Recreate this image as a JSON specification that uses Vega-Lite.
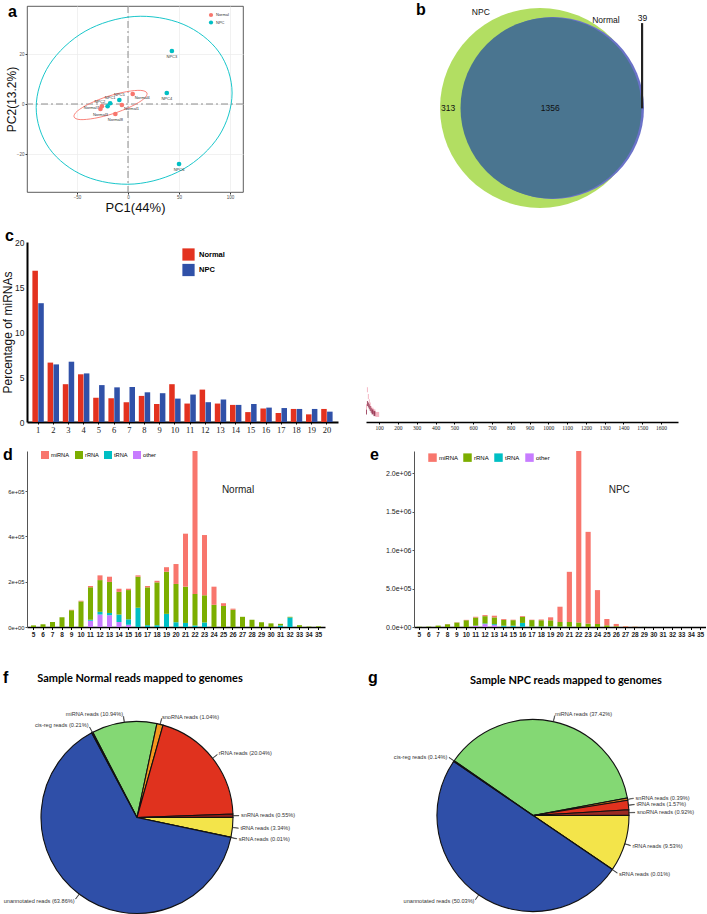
{
  "$schema": "https://vega.github.io/schema/vega-lite/v6.json",
  "padding": {"left": 1, "top": 2, "right": 0, "bottom": 0},
  "autosize": {"type": "pad"},
  "background": "white",
  "config": {
    "view": {"stroke": null},
    "font": "Liberation Sans",
    "axis": {"labelFont": "Liberation Sans", "titleFont": "Liberation Sans", "titleFontWeight": "normal", "grid": false, "labelColor": "#222", "titleColor": "#111"},
    "legend": {"labelFont": "Liberation Sans", "titleFont": "Liberation Sans"},
    "title": {"font": "Liberation Sans", "fontWeight": "bold", "fontSize": 16, "color": "#000", "anchor": "start", "frame": "group", "baseline": "alphabetic"}
  },
  "datasets": {
    "pca": [
      {"id": "NPC3", "group": "NPC", "pc1": 43, "pc2": 21.2},
      {"id": "NPC4", "group": "NPC", "pc1": 38, "pc2": 4.4},
      {"id": "NPC6", "group": "NPC", "pc1": 50, "pc2": -24},
      {"id": "NPC5", "group": "NPC", "pc1": -8.5, "pc2": 1.6},
      {"id": "NPC1", "group": "NPC", "pc1": -17.5, "pc2": 0.3},
      {"id": "NPC2", "group": "NPC", "pc1": -20, "pc2": -0.9},
      {"id": "Normal4", "group": "Normal", "pc1": 4.6, "pc2": 4},
      {"id": "Normal1", "group": "Normal", "pc1": -6, "pc2": -0.4},
      {"id": "Normal7", "group": "Normal", "pc1": -25.6, "pc2": -0.9},
      {"id": "Normal3", "group": "Normal", "pc1": -27, "pc2": -2},
      {"id": "Normal8", "group": "Normal", "pc1": -12.4, "pc2": -4}
    ],
    "ellipse": [
      {"group": "NPC", "ord": 0, "pc1": 102, "pc2": 4.4},
      {"group": "NPC", "ord": 1, "pc1": 89.1, "pc2": 20.8},
      {"group": "NPC", "ord": 2, "pc1": 54, "pc2": 31.9},
      {"group": "NPC", "ord": 3, "pc1": 6, "pc2": 35},
      {"group": "NPC", "ord": 4, "pc1": -42, "pc2": 29.1},
      {"group": "NPC", "ord": 5, "pc1": -77.1, "pc2": 15.7},
      {"group": "NPC", "ord": 6, "pc1": -90, "pc2": -1.4},
      {"group": "NPC", "ord": 7, "pc1": -77.1, "pc2": -17.8},
      {"group": "NPC", "ord": 8, "pc1": -42, "pc2": -28.9},
      {"group": "NPC", "ord": 9, "pc1": 6, "pc2": -32},
      {"group": "NPC", "ord": 10, "pc1": 54, "pc2": -26.1},
      {"group": "NPC", "ord": 11, "pc1": 89.1, "pc2": -12.8},
      {"group": "Normal", "ord": 0, "pc1": 18.6, "pc2": 4.36},
      {"group": "Normal", "ord": 1, "pc1": 15.3, "pc2": 2.0},
      {"group": "Normal", "ord": 2, "pc1": 3.1, "pc2": -1.0},
      {"group": "Normal", "ord": 3, "pc1": -14.4, "pc2": -3.84},
      {"group": "Normal", "ord": 4, "pc1": -32.7, "pc2": -5.7},
      {"group": "Normal", "ord": 5, "pc1": -46.9, "pc2": -6.24},
      {"group": "Normal", "ord": 6, "pc1": -52.9, "pc2": -5.16},
      {"group": "Normal", "ord": 7, "pc1": -49.6, "pc2": -2.8},
      {"group": "Normal", "ord": 8, "pc1": -37.4, "pc2": 0.2},
      {"group": "Normal", "ord": 9, "pc1": -19.9, "pc2": 3.04},
      {"group": "Normal", "ord": 10, "pc1": -1.6, "pc2": 4.92},
      {"group": "Normal", "ord": 11, "pc1": 12.5, "pc2": 5.44}
    ],
    "venn": [
      {"set": "NPC", "cx": 50, "cy": 49.5},
      {"set": "Normal", "cx": 54.06, "cy": 49.5},
      {"set": "Both", "cx": 53.44, "cy": 49.5}
    ],
    "vennText": [
      {"t": "NPC", "x": 31.5, "y": 3.1},
      {"t": "Normal", "x": 70.6, "y": 6.65},
      {"t": "39", "x": 82, "y": 6.0},
      {"t": "313", "x": 21.3, "y": 49.5},
      {"t": "1356", "x": 53.2, "y": 49.5}
    ],
    "vennLine": [{"x": 81.9, "y1": 8.3, "y2": 49.7}],
    "lenpct": [
      {"rank": 1, "group": "Normal", "pct": 16.8}, {"rank": 1, "group": "NPC", "pct": 13.2},
      {"rank": 2, "group": "Normal", "pct": 6.6}, {"rank": 2, "group": "NPC", "pct": 6.4},
      {"rank": 3, "group": "Normal", "pct": 4.2}, {"rank": 3, "group": "NPC", "pct": 6.7},
      {"rank": 4, "group": "Normal", "pct": 5.3}, {"rank": 4, "group": "NPC", "pct": 5.4},
      {"rank": 5, "group": "Normal", "pct": 2.7}, {"rank": 5, "group": "NPC", "pct": 4.1},
      {"rank": 6, "group": "Normal", "pct": 2.65}, {"rank": 6, "group": "NPC", "pct": 3.85},
      {"rank": 7, "group": "Normal", "pct": 2.2}, {"rank": 7, "group": "NPC", "pct": 3.9},
      {"rank": 8, "group": "Normal", "pct": 2.9}, {"rank": 8, "group": "NPC", "pct": 3.3},
      {"rank": 9, "group": "Normal", "pct": 2.0}, {"rank": 9, "group": "NPC", "pct": 3.2},
      {"rank": 10, "group": "Normal", "pct": 4.2}, {"rank": 10, "group": "NPC", "pct": 2.6},
      {"rank": 11, "group": "Normal", "pct": 2.05}, {"rank": 11, "group": "NPC", "pct": 3.05},
      {"rank": 12, "group": "Normal", "pct": 3.6}, {"rank": 12, "group": "NPC", "pct": 2.2},
      {"rank": 13, "group": "Normal", "pct": 2.05}, {"rank": 13, "group": "NPC", "pct": 2.5},
      {"rank": 14, "group": "Normal", "pct": 1.9}, {"rank": 14, "group": "NPC", "pct": 1.9},
      {"rank": 15, "group": "Normal", "pct": 1.1}, {"rank": 15, "group": "NPC", "pct": 2.0},
      {"rank": 16, "group": "Normal", "pct": 1.5}, {"rank": 16, "group": "NPC", "pct": 1.6},
      {"rank": 17, "group": "Normal", "pct": 1.0}, {"rank": 17, "group": "NPC", "pct": 1.55},
      {"rank": 18, "group": "Normal", "pct": 1.45}, {"rank": 18, "group": "NPC", "pct": 1.45},
      {"rank": 19, "group": "Normal", "pct": 0.85}, {"rank": 19, "group": "NPC", "pct": 1.45},
      {"rank": 20, "group": "Normal", "pct": 1.45}, {"rank": 20, "group": "NPC", "pct": 1.15}
    ],
    "hist": [
      {"series": "A", "x0": 30, "x1": 35, "n": 6},
      {"series": "A", "x0": 35, "x1": 40, "n": 16},
      {"series": "A", "x0": 40, "x1": 45, "n": 12},
      {"series": "A", "x0": 45, "x1": 50, "n": 9},
      {"series": "A", "x0": 50, "x1": 55, "n": 7},
      {"series": "A", "x0": 55, "x1": 60, "n": 5},
      {"series": "A", "x0": 60, "x1": 70, "n": 4},
      {"series": "A", "x0": 70, "x1": 80, "n": 3},
      {"series": "A", "x0": 80, "x1": 100, "n": 1.5},
      {"series": "B", "x0": 30, "x1": 35, "n": 3},
      {"series": "B", "x0": 35, "x1": 40, "n": 8},
      {"series": "B", "x0": 40, "x1": 45, "n": 7},
      {"series": "B", "x0": 45, "x1": 50, "n": 6},
      {"series": "B", "x0": 50, "x1": 55, "n": 5},
      {"series": "B", "x0": 55, "x1": 60, "n": 4},
      {"series": "B", "x0": 60, "x1": 70, "n": 3},
      {"series": "B", "x0": 70, "x1": 80, "n": 2}
    ],
    "lenNormal": [
      {"len": 5, "type": "rRNA", "reads": 7000},
      {"len": 6, "type": "rRNA", "reads": 12000},
      {"len": 7, "type": "rRNA", "reads": 22000},
      {"len": 8, "type": "rRNA", "reads": 43000},
      {"len": 9, "type": "rRNA", "reads": 74000}, {"len": 9, "type": "miRNA", "reads": 2000},
      {"len": 10, "type": "rRNA", "reads": 113000}, {"len": 10, "type": "miRNA", "reads": 3000},
      {"len": 11, "type": "other", "reads": 28000}, {"len": 11, "type": "tRNA", "reads": 4000}, {"len": 11, "type": "rRNA", "reads": 144000}, {"len": 11, "type": "miRNA", "reads": 5000},
      {"len": 12, "type": "other", "reads": 55000}, {"len": 12, "type": "tRNA", "reads": 12000}, {"len": 12, "type": "rRNA", "reads": 140000}, {"len": 12, "type": "miRNA", "reads": 21000},
      {"len": 13, "type": "other", "reads": 52000}, {"len": 13, "type": "tRNA", "reads": 10000}, {"len": 13, "type": "rRNA", "reads": 137000}, {"len": 13, "type": "miRNA", "reads": 23000},
      {"len": 14, "type": "other", "reads": 22000}, {"len": 14, "type": "tRNA", "reads": 33000}, {"len": 14, "type": "rRNA", "reads": 100000}, {"len": 14, "type": "miRNA", "reads": 14000},
      {"len": 15, "type": "other", "reads": 10000}, {"len": 15, "type": "tRNA", "reads": 24000}, {"len": 15, "type": "rRNA", "reads": 129000}, {"len": 15, "type": "miRNA", "reads": 6000},
      {"len": 16, "type": "tRNA", "reads": 85000}, {"len": 16, "type": "rRNA", "reads": 137000}, {"len": 16, "type": "miRNA", "reads": 6000},
      {"len": 17, "type": "tRNA", "reads": 8000}, {"len": 17, "type": "rRNA", "reads": 167000}, {"len": 17, "type": "miRNA", "reads": 6000},
      {"len": 18, "type": "tRNA", "reads": 8000}, {"len": 18, "type": "rRNA", "reads": 189000}, {"len": 18, "type": "miRNA", "reads": 7000},
      {"len": 19, "type": "tRNA", "reads": 58000}, {"len": 19, "type": "rRNA", "reads": 186000}, {"len": 19, "type": "miRNA", "reads": 20000},
      {"len": 20, "type": "tRNA", "reads": 21000}, {"len": 20, "type": "rRNA", "reads": 169000}, {"len": 20, "type": "miRNA", "reads": 88000},
      {"len": 21, "type": "tRNA", "reads": 18000}, {"len": 21, "type": "rRNA", "reads": 160000}, {"len": 21, "type": "miRNA", "reads": 234000},
      {"len": 22, "type": "tRNA", "reads": 7000}, {"len": 22, "type": "rRNA", "reads": 139000}, {"len": 22, "type": "miRNA", "reads": 631000},
      {"len": 23, "type": "tRNA", "reads": 20000}, {"len": 23, "type": "rRNA", "reads": 120000}, {"len": 23, "type": "miRNA", "reads": 266000},
      {"len": 24, "type": "rRNA", "reads": 98000}, {"len": 24, "type": "miRNA", "reads": 80000},
      {"len": 25, "type": "rRNA", "reads": 93000}, {"len": 25, "type": "miRNA", "reads": 12000},
      {"len": 26, "type": "rRNA", "reads": 76000}, {"len": 26, "type": "miRNA", "reads": 5000},
      {"len": 27, "type": "rRNA", "reads": 45000},
      {"len": 28, "type": "rRNA", "reads": 32000},
      {"len": 29, "type": "rRNA", "reads": 21000},
      {"len": 30, "type": "rRNA", "reads": 16000},
      {"len": 31, "type": "tRNA", "reads": 7000}, {"len": 31, "type": "rRNA", "reads": 7000},
      {"len": 32, "type": "tRNA", "reads": 42000}, {"len": 32, "type": "rRNA", "reads": 3000},
      {"len": 33, "type": "rRNA", "reads": 8000},
      {"len": 34, "type": "rRNA", "reads": 2000},
      {"len": 35, "type": "rRNA", "reads": 3000}
    ],
    "lenNPC": [
      {"len": 5, "type": "rRNA", "reads": 3000},
      {"len": 6, "type": "rRNA", "reads": 5000},
      {"len": 7, "type": "rRNA", "reads": 18000},
      {"len": 8, "type": "rRNA", "reads": 36000}, {"len": 8, "type": "miRNA", "reads": 2000},
      {"len": 9, "type": "rRNA", "reads": 58000}, {"len": 9, "type": "miRNA", "reads": 3000},
      {"len": 10, "type": "rRNA", "reads": 88000}, {"len": 10, "type": "miRNA", "reads": 5000},
      {"len": 11, "type": "other", "reads": 15000}, {"len": 11, "type": "tRNA", "reads": 3000}, {"len": 11, "type": "rRNA", "reads": 105000}, {"len": 11, "type": "miRNA", "reads": 10000},
      {"len": 12, "type": "other", "reads": 38000}, {"len": 12, "type": "tRNA", "reads": 8000}, {"len": 12, "type": "rRNA", "reads": 95000}, {"len": 12, "type": "miRNA", "reads": 14000},
      {"len": 13, "type": "other", "reads": 25000}, {"len": 13, "type": "tRNA", "reads": 12000}, {"len": 13, "type": "rRNA", "reads": 88000}, {"len": 13, "type": "miRNA", "reads": 22000},
      {"len": 14, "type": "other", "reads": 3000}, {"len": 14, "type": "tRNA", "reads": 14000}, {"len": 14, "type": "rRNA", "reads": 76000}, {"len": 14, "type": "miRNA", "reads": 11000},
      {"len": 15, "type": "other", "reads": 2000}, {"len": 15, "type": "tRNA", "reads": 15000}, {"len": 15, "type": "rRNA", "reads": 72000}, {"len": 15, "type": "miRNA", "reads": 6000},
      {"len": 16, "type": "other", "reads": 3000}, {"len": 16, "type": "tRNA", "reads": 50000}, {"len": 16, "type": "rRNA", "reads": 80000}, {"len": 16, "type": "miRNA", "reads": 10000},
      {"len": 17, "type": "tRNA", "reads": 5000}, {"len": 17, "type": "rRNA", "reads": 85000}, {"len": 17, "type": "miRNA", "reads": 5000},
      {"len": 18, "type": "tRNA", "reads": 5000}, {"len": 18, "type": "rRNA", "reads": 84000}, {"len": 18, "type": "miRNA", "reads": 10000},
      {"len": 19, "type": "tRNA", "reads": 7000}, {"len": 19, "type": "rRNA", "reads": 80000}, {"len": 19, "type": "miRNA", "reads": 39000},
      {"len": 20, "type": "tRNA", "reads": 4000}, {"len": 20, "type": "rRNA", "reads": 61000}, {"len": 20, "type": "miRNA", "reads": 199000},
      {"len": 21, "type": "tRNA", "reads": 3000}, {"len": 21, "type": "rRNA", "reads": 62000}, {"len": 21, "type": "miRNA", "reads": 653000},
      {"len": 22, "type": "rRNA", "reads": 60000}, {"len": 22, "type": "miRNA", "reads": 2230000},
      {"len": 23, "type": "rRNA", "reads": 45000}, {"len": 23, "type": "miRNA", "reads": 1193000},
      {"len": 24, "type": "rRNA", "reads": 39000}, {"len": 24, "type": "miRNA", "reads": 441000},
      {"len": 25, "type": "rRNA", "reads": 22000}, {"len": 25, "type": "miRNA", "reads": 82000},
      {"len": 26, "type": "rRNA", "reads": 10000}, {"len": 26, "type": "miRNA", "reads": 30000},
      {"len": 27, "type": "rRNA", "reads": 4000}, {"len": 27, "type": "miRNA", "reads": 8000},
      {"len": 28, "type": "rRNA", "reads": 2000}, {"len": 28, "type": "miRNA", "reads": 3000},
      {"len": 29, "type": "rRNA", "reads": 1000}
    ],
    "pieNormal": [
      {"ord": 1, "cat": "miRNA", "pct": 10.94, "label": "miRNA reads (10.94%)"},
      {"ord": 2, "cat": "snoRNA", "pct": 1.04, "label": "snoRNA reads (1.04%)"},
      {"ord": 3, "cat": "rRNA", "pct": 20.04, "label": "rRNA reads (20.04%)"},
      {"ord": 4, "cat": "snRNA", "pct": 0.55, "label": "snRNA reads (0.55%)"},
      {"ord": 5, "cat": "tRNA", "pct": 3.34, "label": "tRNA reads (3.34%)"},
      {"ord": 6, "cat": "sRNA", "pct": 0.01, "label": "sRNA reads (0.01%)"},
      {"ord": 7, "cat": "unannotated", "pct": 63.86, "label": "unannotated reads (63.86%)"},
      {"ord": 8, "cat": "cis-reg", "pct": 0.21, "label": "cis-reg reads (0.21%)"}
    ],
    "pieNPC": [
      {"ord": 1, "cat": "miRNA", "pct": 37.42, "label": "miRNA reads (37.42%)"},
      {"ord": 2, "cat": "snRNA", "pct": 0.39, "label": "snRNA reads (0.39%)"},
      {"ord": 3, "cat": "tRNA", "pct": 1.57, "label": "tRNA reads (1.57%)"},
      {"ord": 4, "cat": "snoRNA", "pct": 0.92, "label": "snoRNA reads (0.92%)"},
      {"ord": 5, "cat": "rRNA", "pct": 9.53, "label": "rRNA reads (9.53%)"},
      {"ord": 6, "cat": "sRNA", "pct": 0.01, "label": "sRNA reads (0.01%)"},
      {"ord": 7, "cat": "unannotated", "pct": 50.03, "label": "unannotated reads (50.03%)"},
      {"ord": 8, "cat": "cis-reg", "pct": 0.14, "label": "cis-reg reads (0.14%)"}
    ]
  },
  "spacing": 12,
  "resolve": {
    "scale": {"x": "independent", "y": "independent", "color": "independent", "theta": "independent", "opacity": "independent", "xOffset": "independent"},
    "legend": {"color": "independent"}
  },
  "vconcat": [
    {
      "spacing": 137,
      "bounds": "flush",
      "resolve": {"scale": {"x": "independent", "y": "independent", "color": "independent"}, "legend": {"color": "independent"}},
      "hconcat": [
        {
          "width": 216, "height": 186,
          "view": {"stroke": "#333", "strokeWidth": 0.8},
          "title": {"text": "a", "dx": -19, "offset": -14},
          "layer": [
            {"data": {"values": [{"k": 0}]}, "mark": {"type": "rule", "color": "#8C8C8C", "strokeWidth": 1, "strokeDash": [7, 3, 2, 3]},
             "encoding": {"x": {"datum": 0, "type": "quantitative", "title": "PC1(44%)"}}},
            {"data": {"values": [{"k": 0}]}, "mark": {"type": "rule", "color": "#8C8C8C", "strokeWidth": 1, "strokeDash": [7, 3, 2, 3]},
             "encoding": {"y": {"datum": 0, "type": "quantitative", "title": "PC2(13.2%)"}}},
            {"data": {"name": "ellipse"}, "mark": {"type": "line", "interpolate": "cardinal-closed", "strokeWidth": 0.9},
             "encoding": {
               "x": {"field": "pc1", "type": "quantitative", "title": "PC1(44%)"},
               "y": {"field": "pc2", "type": "quantitative", "title": "PC2(13.2%)"},
               "detail": {"field": "group"},
               "color": {"condition": {"test": "datum.group == 'Normal'", "value": "#F8766D"}, "value": "#00BFC4"},
               "order": {"field": "ord", "type": "quantitative"}
             }},
            {"data": {"name": "pca"}, "mark": {"type": "point", "filled": true, "size": 22, "opacity": 1},
             "encoding": {
               "x": {"field": "pc1", "type": "quantitative", "title": "PC1(44%)", "scale": {"domain": [-99, 112.7], "nice": false, "zero": false},
                     "axis": {"values": [-50, 0, 50, 100], "grid": true, "gridColor": "#EBEBEB", "gridWidth": 0.7, "domain": false, "tickSize": 2, "tickColor": "#333", "labelFontSize": 4.5, "labelColor": "#4D4D4D", "labelPadding": 0.5, "titleFontSize": 13, "titleY": 19, "titleBaseline": "alphabetic"}},
               "y": {"field": "pc2", "type": "quantitative", "title": "PC2(13.2%)", "scale": {"domain": [-35.2, 39.2], "nice": false, "zero": false},
                     "axis": {"values": [-20, 0, 20], "grid": true, "gridColor": "#EBEBEB", "gridWidth": 0.7, "domain": false, "tickSize": 2, "tickColor": "#333", "labelFontSize": 4.5, "labelColor": "#4D4D4D", "labelPadding": 1, "titleFontSize": 12, "titleX": -16, "titleBaseline": "middle"}},
               "color": {"field": "group", "type": "nominal", "scale": {"domain": ["Normal", "NPC"], "range": ["#F8766D", "#00BFC4"]},
                         "legend": {"orient": "none", "legendX": 181, "legendY": 6, "title": null, "labelFontSize": 4, "symbolSize": 18, "rowPadding": 1.5, "labelOffset": 2, "labelColor": "#333"}}
             }},
            {"data": {"name": "pca"}, "transform": [{"filter": "indexof(['NPC3','NPC4','NPC6','Normal3','Normal8'], datum.id) >= 0"}],
             "mark": {"type": "text", "fontSize": 4, "dy": 5.5, "color": "#333"},
             "encoding": {"x": {"field": "pc1", "type": "quantitative", "title": "PC1(44%)"}, "y": {"field": "pc2", "type": "quantitative", "title": "PC2(13.2%)"}, "text": {"field": "id"}}},
            {"data": {"name": "pca"}, "transform": [{"filter": "indexof(['NPC5','NPC1'], datum.id) >= 0"}],
             "mark": {"type": "text", "fontSize": 4, "dy": -5, "color": "#333"},
             "encoding": {"x": {"field": "pc1", "type": "quantitative", "title": "PC1(44%)"}, "y": {"field": "pc2", "type": "quantitative", "title": "PC2(13.2%)"}, "text": {"field": "id"}}},
            {"data": {"name": "pca"}, "transform": [{"filter": "indexof(['Normal4','Normal1'], datum.id) >= 0"}],
             "mark": {"type": "text", "fontSize": 4, "dx": 2, "dy": 4, "align": "left", "color": "#333"},
             "encoding": {"x": {"field": "pc1", "type": "quantitative", "title": "PC1(44%)"}, "y": {"field": "pc2", "type": "quantitative", "title": "PC2(13.2%)"}, "text": {"field": "id"}}},
            {"data": {"name": "pca"}, "transform": [{"filter": "datum.id == 'NPC2'"}],
             "mark": {"type": "text", "fontSize": 4, "dx": -2.5, "dy": -4, "align": "right", "color": "#333"},
             "encoding": {"x": {"field": "pc1", "type": "quantitative", "title": "PC1(44%)"}, "y": {"field": "pc2", "type": "quantitative", "title": "PC2(13.2%)"}, "text": {"field": "id"}}},
            {"data": {"name": "pca"}, "transform": [{"filter": "datum.id == 'Normal7'"}],
             "mark": {"type": "text", "fontSize": 4, "dx": -3, "dy": 1.5, "align": "right", "color": "#333"},
             "encoding": {"x": {"field": "pc1", "type": "quantitative", "title": "PC1(44%)"}, "y": {"field": "pc2", "type": "quantitative", "title": "PC2(13.2%)"}, "text": {"field": "id"}}}
          ]
        },
        {
          "width": 320, "height": 206,
          "title": {"text": "b", "dx": 36, "offset": -12},
          "layer": [
            {"data": {"name": "venn"}, "transform": [{"filter": "datum.set == 'NPC'"}],
             "mark": {"type": "point", "shape": "circle", "filled": true, "opacity": 1, "size": 40000, "color": "#B2DE62", "strokeWidth": 0},
             "encoding": {
               "x": {"field": "cx", "type": "quantitative", "scale": {"domain": [0, 100], "nice": false, "zero": false}, "axis": null},
               "y": {"field": "cy", "type": "quantitative", "scale": {"domain": [0, 100], "nice": false, "zero": false, "reverse": true}, "axis": null}
             }},
            {"data": {"name": "venn"}, "transform": [{"filter": "datum.set == 'Normal'"}],
             "mark": {"type": "point", "shape": "circle", "filled": true, "opacity": 1, "size": 33124, "color": "#6A72C8", "strokeWidth": 0},
             "encoding": {"x": {"field": "cx", "type": "quantitative"}, "y": {"field": "cy", "type": "quantitative"}}},
            {"data": {"name": "venn"}, "transform": [{"filter": "datum.set == 'Both'"}],
             "mark": {"type": "point", "shape": "circle", "filled": true, "opacity": 1, "size": 32761, "color": "#4A7590", "strokeWidth": 0},
             "encoding": {"x": {"field": "cx", "type": "quantitative"}, "y": {"field": "cy", "type": "quantitative"}}},
            {"data": {"name": "vennLine"}, "mark": {"type": "rule", "color": "#222", "strokeWidth": 2.2},
             "encoding": {"x": {"field": "x", "type": "quantitative"}, "y": {"field": "y1", "type": "quantitative"}, "y2": {"field": "y2"}}},
            {"data": {"name": "vennText"}, "mark": {"type": "text", "fontSize": 8.5, "color": "#111", "fontWeight": 500},
             "encoding": {"x": {"field": "x", "type": "quantitative"}, "y": {"field": "y", "type": "quantitative"}, "text": {"field": "t"}}}
          ]
        }
      ]
    },
    {
      "spacing": 28,
      "bounds": "flush",
      "resolve": {"scale": {"x": "independent", "y": "independent", "color": "independent"}, "legend": {"color": "independent"}},
      "hconcat": [
        {
          "width": 311, "height": 180,
          "title": {"text": "c", "dx": -22, "offset": -5.5},
          "data": {"name": "lenpct"},
          "mark": {"type": "bar"},
          "encoding": {
            "x": {"field": "rank", "type": "ordinal", "scale": {"paddingInner": 0.25, "paddingOuter": 0.355},
                  "axis": {"title": null, "labelAngle": 0, "labelFont": "Liberation Serif", "labelFontSize": 8.5, "labelColor": "#222", "domainColor": "#000", "domainWidth": 2, "tickSize": 2, "tickColor": "#000", "labelPadding": 1}},
            "xOffset": {"field": "group", "type": "nominal", "sort": ["Normal", "NPC"], "scale": {"paddingInner": 0.06}},
            "y": {"field": "pct", "type": "quantitative", "stack": null, "scale": {"domain": [0, 20], "nice": false},
                  "axis": {"values": [0, 5, 10, 15, 20], "title": "Percentage of miRNAs", "titleFontSize": 12, "titleX": -20, "titleBaseline": "middle", "labelFontSize": 8.5, "domainColor": "#000", "domainWidth": 2, "tickSize": 0, "labelPadding": 3}},
            "color": {"field": "group", "type": "nominal", "sort": ["Normal", "NPC"], "scale": {"domain": ["Normal", "NPC"], "range": ["#E3321F", "#3051A8"]},
                      "legend": {"orient": "none", "legendX": 155, "legendY": 6, "title": null, "symbolType": "square", "symbolSize": 150, "symbolStrokeWidth": 0, "labelFontSize": 7.5, "labelFontWeight": "bold", "rowPadding": 2.5, "labelOffset": 4}}
          }
        },
        {
          "width": 312, "height": 180,
          "data": {"name": "hist"},
          "mark": {"type": "bar"},
          "encoding": {
            "x": {"field": "x0", "type": "quantitative", "scale": {"domain": [30, 1690], "nice": false, "zero": false},
                  "axis": {"values": [100, 200, 300, 400, 500, 600, 700, 800, 900, 1000, 1100, 1200, 1300, 1400, 1500, 1600], "title": null, "labelFont": "Liberation Serif", "labelFontSize": 5.5, "domainColor": "#000", "domainWidth": 1.5, "tickSize": 2, "tickColor": "#000", "labelPadding": 1, "labelOverlap": false, "format": "d"}},
            "x2": {"field": "x1"},
            "y": {"field": "n", "type": "quantitative", "stack": null, "scale": {"domain": [0, 100]}, "axis": null},
            "color": {"field": "series", "type": "nominal", "scale": {"domain": ["A", "B"], "range": ["#F2A7B6", "#8E2846"]}, "legend": null},
            "opacity": {"value": 0.85}
          }
        }
      ]
    },
    {
      "spacing": 89,
      "bounds": "flush",
      "resolve": {"scale": {"x": "independent", "y": "independent", "color": "independent"}, "legend": {"color": "independent"}},
      "hconcat": [
        {
          "width": 298, "height": 176,
          "title": {"text": "d", "dx": -24, "offset": -11.5},
          "layer": [
            {"data": {"name": "lenNormal"},
             "transform": [{"calculate": "indexof(['other','tRNA','rRNA','miRNA'], datum.type)", "as": "so"}],
             "mark": {"type": "bar"},
             "encoding": {
               "x": {"field": "len", "type": "ordinal", "title": null,
                     "scale": {"domain": [5,6,7,8,9,10,11,12,13,14,15,16,17,18,19,20,21,22,23,24,25,26,27,28,29,30,31,32,33,34,35], "paddingInner": 0.47, "paddingOuter": 0.42},
                     "axis": {"labelAngle": 0, "labelFontSize": 6.5, "labelFontWeight": "bold", "domainColor": "#000", "domainWidth": 1.3, "tickSize": 2.5, "tickColor": "#000", "labelPadding": 1.5, "labelOverlap": false}},
               "y": {"field": "reads", "type": "quantitative", "title": null, "stack": "zero", "scale": {"domain": [0, 777000], "nice": false},
                     "axis": {"values": [0, 200000, 400000, 600000], "labelExpr": "datum.value == 0 ? '0e+00' : format(datum.value / 100000, '.0f') + 'e+05'", "labelFontSize": 5.8, "domainColor": "#555", "domainWidth": 1, "tickSize": 2, "tickColor": "#555", "labelPadding": 1}},
               "color": {"field": "type", "type": "nominal", "sort": ["miRNA", "rRNA", "tRNA", "other"],
                         "scale": {"domain": ["miRNA", "rRNA", "tRNA", "other"], "range": ["#F8766D", "#7CAE00", "#00BFC4", "#C77CFF"]},
                         "legend": {"orient": "none", "direction": "horizontal", "legendX": 14, "legendY": 0, "title": null, "symbolType": "square", "symbolSize": 64, "symbolStrokeWidth": 0, "labelFontSize": 5.7, "labelOffset": 2, "columnPadding": 5}},
               "order": {"field": "so", "type": "quantitative", "sort": "ascending"}
             }},
            {"data": {"values": [{"k": 0}]}, "mark": {"type": "text", "fontSize": 10, "color": "#222", "dx": -4.5},
             "encoding": {"x": {"datum": 27, "type": "ordinal", "title": null}, "y": {"datum": 605000, "type": "quantitative", "title": null}, "text": {"value": "Normal"}}}
          ]
        },
        {
          "width": 292, "height": 176,
          "title": {"text": "e", "dx": -44, "offset": -11.5},
          "layer": [
            {"data": {"name": "lenNPC"},
             "transform": [{"calculate": "indexof(['other','tRNA','rRNA','miRNA'], datum.type)", "as": "so"}],
             "mark": {"type": "bar"},
             "encoding": {
               "x": {"field": "len", "type": "ordinal", "title": null,
                     "scale": {"domain": [5,6,7,8,9,10,11,12,13,14,15,16,17,18,19,20,21,22,23,24,25,26,27,28,29,30,31,32,33,34,35], "paddingInner": 0.45, "paddingOuter": 0.3},
                     "axis": {"labelAngle": 0, "labelFontSize": 6.5, "labelFontWeight": "bold", "domainColor": "#000", "domainWidth": 1.3, "tickSize": 2.5, "tickColor": "#000", "labelPadding": 1.5, "labelOverlap": false}},
               "y": {"field": "reads", "type": "quantitative", "title": null, "stack": "zero", "scale": {"domain": [0, 2290000], "nice": false},
                     "axis": {"values": [0, 500000, 1000000, 1500000, 2000000], "labelExpr": "datum.value == 0 ? '0.0e+00' : (datum.value < 1000000 ? format(datum.value / 100000, '.1f') + 'e+05' : format(datum.value / 1000000, '.1f') + 'e+06')", "labelFontSize": 7, "domainColor": "#555", "domainWidth": 1, "tickSize": 2, "tickColor": "#555", "labelPadding": 1}},
               "color": {"field": "type", "type": "nominal", "sort": ["miRNA", "rRNA", "tRNA", "other"],
                         "scale": {"domain": ["miRNA", "rRNA", "tRNA", "other"], "range": ["#F8766D", "#7CAE00", "#00BFC4", "#C77CFF"]},
                         "legend": {"orient": "none", "direction": "horizontal", "legendX": 14, "legendY": 2, "title": null, "symbolType": "square", "symbolSize": 72, "symbolStrokeWidth": 0, "labelFontSize": 6, "labelOffset": 2, "columnPadding": 5}},
               "order": {"field": "so", "type": "quantitative", "sort": "ascending"}
             }},
            {"data": {"values": [{"k": 0}]}, "mark": {"type": "text", "fontSize": 10, "color": "#222", "dx": 3},
             "encoding": {"x": {"datum": 26, "type": "ordinal", "title": null}, "y": {"datum": 1780000, "type": "quantitative", "title": null}, "text": {"value": "NPC"}}}
          ]
        }
      ]
    },
    {
      "spacing": 0,
      "bounds": "flush",
      "title": {"text": "f", "dx": -24, "offset": -35.5},
      "resolve": {"scale": {"color": "independent", "theta": "independent"}, "legend": {"color": "independent"}},
      "hconcat": [
        {
          "width": 220, "height": 335,
          "title": {"text": "Sample Normal reads mapped to genomes", "anchor": "middle", "dx": 3, "offset": -33.5, "fontSize": 11, "font": "Lato", "fontWeight": "bold"},
          "data": {"name": "pieNormal"},
          "encoding": {
            "theta": {"field": "pct", "type": "quantitative", "stack": true, "scale": {"range": [-0.4782, 5.805]}},
            "order": {"field": "ord", "type": "quantitative", "sort": "ascending"}
          },
          "layer": [
            {"mark": {"type": "arc", "outerRadius": 96, "stroke": "#111", "strokeWidth": 1.1},
             "encoding": {"color": {"field": "ord", "type": "ordinal", "scale": {"domain": [1, 2, 3, 4, 5, 6, 7, 8], "range": ["#84D874", "#F5961E", "#E0321E", "#8C1E19", "#F3E44A", "#999999", "#2F4FA8", "#333333"]}, "legend": null}}},
            {"transform": [
               {"stack": "pct", "groupby": [], "sort": [{"field": "ord", "order": "ascending"}], "as": ["s0", "s1"]},
               {"calculate": "(datum.s0 + datum.s1) / 2", "as": "mid"},
               {"calculate": "datum.mid + 0.06", "as": "mid2"}
             ],
             "mark": {"type": "arc", "innerRadius": 96, "outerRadius": 102, "fill": "#333", "stroke": "#333", "strokeWidth": 0.5},
             "encoding": {"theta": {"field": "mid", "type": "quantitative", "stack": null}, "theta2": {"field": "mid2"}}},
            {"mark": {"type": "text", "radius": 104, "align": "right", "baseline": "middle", "fontSize": 5.6, "color": "#333"},
             "encoding": {"detail": {"field": "ord", "type": "ordinal"},
                          "text": {"field": "label", "type": "nominal", "condition": {"test": "indexof(['miRNA','cis-reg','unannotated'], datum.cat) < 0", "value": ""}}}},
            {"mark": {"type": "text", "radius": 104, "align": "left", "baseline": "middle", "fontSize": 5.6, "color": "#333"},
             "encoding": {"detail": {"field": "ord", "type": "ordinal"},
                          "text": {"field": "label", "type": "nominal", "condition": {"test": "indexof(['miRNA','cis-reg','unannotated'], datum.cat) >= 0", "value": ""}}}}
          ]
        },
        {"width": 176, "height": 1, "data": {"values": []}, "mark": "point", "title": {"text": "g", "dx": 121, "offset": -35.5}},
        {
          "width": 220, "height": 331,
          "title": {"text": "Sample NPC reads mapped to genomes", "anchor": "middle", "dx": 33, "offset": -35.5, "fontSize": 11, "font": "Lato", "fontWeight": "bold"},
          "data": {"name": "pieNPC"},
          "encoding": {
            "theta": {"field": "pct", "type": "quantitative", "stack": true, "scale": {"range": [-0.9634, 5.3198]}},
            "order": {"field": "ord", "type": "quantitative", "sort": "ascending"}
          },
          "layer": [
            {"mark": {"type": "arc", "outerRadius": 96, "stroke": "#111", "strokeWidth": 1.1},
             "encoding": {"color": {"field": "ord", "type": "ordinal", "scale": {"domain": [1, 2, 3, 4, 5, 6, 7, 8], "range": ["#84D874", "#D07A1E", "#E0321E", "#9A2A22", "#F3E44A", "#999999", "#2F4FA8", "#333333"]}, "legend": null}}},
            {"transform": [
               {"stack": "pct", "groupby": [], "sort": [{"field": "ord", "order": "ascending"}], "as": ["s0", "s1"]},
               {"calculate": "(datum.s0 + datum.s1) / 2", "as": "mid"},
               {"calculate": "datum.mid + 0.06", "as": "mid2"}
             ],
             "mark": {"type": "arc", "innerRadius": 96, "outerRadius": 102, "fill": "#333", "stroke": "#333", "strokeWidth": 0.5},
             "encoding": {"theta": {"field": "mid", "type": "quantitative", "stack": null}, "theta2": {"field": "mid2"}}},
            {"mark": {"type": "text", "radius": 104, "align": "right", "baseline": "middle", "fontSize": 5.6, "color": "#333"},
             "encoding": {"detail": {"field": "ord", "type": "ordinal"},
                          "text": {"field": "label", "type": "nominal", "condition": {"test": "indexof(['cis-reg','unannotated'], datum.cat) < 0", "value": ""}}}},
            {"mark": {"type": "text", "radius": 104, "align": "left", "baseline": "middle", "fontSize": 5.6, "color": "#333"},
             "encoding": {"detail": {"field": "ord", "type": "ordinal"},
                          "text": {"field": "label", "type": "nominal", "condition": {"test": "indexof(['cis-reg','unannotated'], datum.cat) >= 0", "value": ""}}}}
          ]
        }
      ]
    }
  ]
}
